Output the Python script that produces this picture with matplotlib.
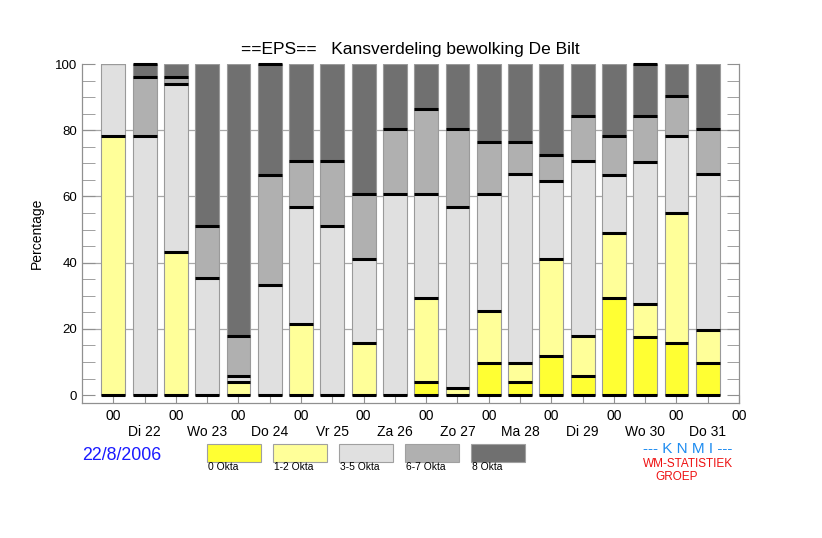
import numpy as np
import matplotlib
matplotlib.use("Agg")
import matplotlib.pyplot as plt
from matplotlib.patches import Rectangle
from matplotlib.ticker import MultipleLocator

plt.rcParams["font.family"] = ["Liberation Sans", "DejaVu Sans"]

# percentage of ensemble members per cloud class, every 12 h (00 and 12 UTC)
okta0 = [0, 0, 0, 0, 0, 0, 0, 0, 0, 0, 3.9, 0, 9.8, 3.9, 11.8, 5.9, 29.4, 17.6, 15.7, 9.8]
okta12 = [78.4, 0, 43.1, 0, 3.9, 0, 21.6, 0, 15.7, 0, 25.5, 2.0, 15.7, 5.9, 29.4, 11.8, 19.6, 9.8, 39.2, 9.8]
okta35 = [21.6, 78.4, 51.0, 35.3, 2.0, 33.3, 35.3, 51.0, 25.5, 60.8, 31.4, 54.9, 35.3, 56.9, 23.5, 52.9, 17.6, 43.1, 23.5, 47.1]
okta67 = [0, 17.6, 2.0, 15.7, 11.8, 33.3, 13.7, 19.6, 19.6, 19.6, 25.5, 23.5, 15.7, 9.8, 7.8, 13.7, 11.8, 13.7, 11.8, 13.7]
okta8 = [0, 3.9, 3.9, 49.0, 82.4, 33.3, 29.4, 29.4, 39.2, 19.6, 13.7, 19.6, 23.5, 23.5, 27.5, 15.7, 21.6, 15.7, 9.8, 19.6]

classes = ["0 Okta", "1-2 Okta", "3-5 Okta", "6-7 Okta", "8 Okta"]
colors = ["#ffff33", "#ffff99", "#e0e0e0", "#b0b0b0", "#707070"]
days = ["Di 22", "Wo 23", "Do 24", "Vr 25", "Za 26", "Zo 27", "Ma 28", "Di 29", "Wo 30", "Do 31"]
date_str = "22/8/2006"

series = [okta0, okta12, okta35, okta67, okta8]
n = len(okta0)
x = np.arange(n)
w = 0.765

fig = plt.figure(figsize=(8.22, 5.38), dpi=100)
ax = fig.add_axes([0.0998, 0.2509, 0.7993, 0.6301])

bottom = np.zeros(n)
for vals, c in zip(series, colors):
    vals = np.array(vals, dtype=float)
    ax.bar(x, vals, w, bottom=bottom, color=c, edgecolor="#9a9a9a", linewidth=0.8, zorder=2)
    bottom = bottom + vals

# black marks at the base and at the top of every segment
ax.hlines(np.zeros(n), x - w / 2, x + w / 2, color="black", linewidth=2.2, zorder=3)
cum = np.zeros(n)
for vals in series:
    vals = np.array(vals, dtype=float)
    cum = cum + vals
    for i in range(n):
        if vals[i] > 0 and cum[i] < 99.95:
            ax.hlines(cum[i], x[i] - w / 2, x[i] + w / 2, color="black",
                      linewidth=2.2, zorder=3, clip_on=False)

ax.set_xlim(-1, 20)
ax.set_ylim(-2.4, 100)

ax.set_xticks(np.arange(0, 21))
labels = []
for k in range(21):
    if k % 2 == 0:
        labels.append("00")
    else:
        labels.append("\n" + days[k // 2])
ax.set_xticklabels(labels, fontsize=10)
ax.tick_params(axis="x", direction="in", length=6, color="#909090", pad=4)

ax.yaxis.set_major_locator(MultipleLocator(20))
ax.yaxis.set_minor_locator(MultipleLocator(5))
ax.tick_params(axis="y", which="both", direction="in", length=9, color="#909090",
               right=True, labelsize=9.5)
ax.yaxis.grid(True, color="#a8a8a8", linewidth=0.9, zorder=0)
ax.set_axisbelow(True)
for gl, v in zip(ax.yaxis.get_gridlines(), ax.get_yticks()):
    if v <= 0 or v >= 100:
        gl.set_visible(False)

ax.spines["top"].set_visible(False)
for s in ["left", "right", "bottom"]:
    ax.spines[s].set_color("#909090")
    ax.spines[s].set_linewidth(0.9)

ax.set_ylabel("Percentage", fontsize=10, labelpad=8)
ax.set_title("==EPS==   Kansverdeling bewolking De Bilt", fontsize=12.5, pad=7)

# bottom annotations
fig.text(82 / 822, 1 - 455 / 538, date_str, color="#1a1aff", fontsize=12.8,
         ha="left", va="center")

for k, (lab, c) in enumerate(zip(classes, colors)):
    x0 = (207 + 66 * k) / 822
    fig.patches.append(Rectangle((x0, 1 - 462 / 538), 54 / 822, 18 / 538,
                                 transform=fig.transFigure, facecolor=c,
                                 edgecolor="#a0a0a0", linewidth=0.8))
    fig.text(x0 + 1 / 822, 1 - 467 / 538, lab, fontsize=7.4, ha="left", va="center")

fig.text(687.5 / 822, 1 - 449 / 538, "--- K N M I ---", color="#1e8cf0", fontsize=11,
         ha="center", va="center")
fig.text(688 / 822, 1 - 464 / 538, "WM-STATISTIEK", color="#ee1111", fontsize=8.5,
         ha="center", va="center")
fig.text(677 / 822, 1 - 477 / 538, "GROEP", color="#ee1111", fontsize=8.5,
         ha="center", va="center")

fig.savefig("out.png", dpi=100)
